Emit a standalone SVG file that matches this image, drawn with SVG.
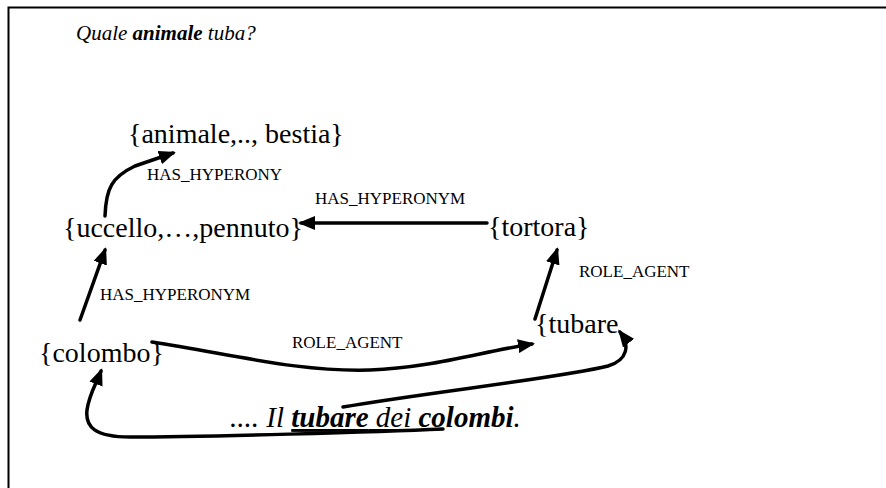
<svg xmlns="http://www.w3.org/2000/svg" width="886" height="488" viewBox="0 0 886 488">
  <style>
    .node { font-size: 28px; }
    .lbl { font-size: 17px; }
    .sent { font-size: 21px; font-style: italic; }
    .edge { fill: none; stroke: #000; stroke-width: 3.5; stroke-linecap: round; stroke-linejoin: round; marker-end: url(#ah); }
  </style>
  <defs>
    <marker id="ah" markerUnits="userSpaceOnUse" markerWidth="18" markerHeight="14" refX="14" refY="7" orient="auto">
      <path d="M0,0 L17,7 L0,14 z" fill="#000"/>
    </marker>
  </defs>

  <rect width="886" height="488" fill="#fff"/>
  <!-- frame: left and top edges -->
  <path d="M8.5,488 L8.5,7.5 L886,7.5" fill="none" stroke="#000" stroke-width="2"/>

  <g font-family="'Liberation Serif', 'DejaVu Serif', serif" fill="#000">
    <text class="sent" x="76" y="40">Quale <tspan font-weight="bold">animale</tspan> tuba?</text>

    <g id="n-animale"><text class="node" x="128" y="143">{animale,.., bestia}</text></g>
    <g id="n-uccello"><text class="node" x="63" y="237">{uccello,…,pennuto}</text></g>
    <g id="n-tortora"><text class="node" x="488" y="236">{tortora}</text></g>
    <g id="n-tubare"><text class="node" x="535" y="333">{tubare</text></g>
    <g id="n-colombo"><text class="node" x="39" y="362">{colombo}</text></g>

    <g id="n-frase">
      <text x="230" y="427" font-size="29" font-style="italic">.... Il <tspan font-weight="bold" text-decoration="underline">tubare</tspan><tspan text-decoration="underline"> dei</tspan> <tspan font-weight="bold">colombi</tspan>.</text>
    </g>

    <g id="connectors">
      <path class="edge" d="M80,320 L105,250"/>
      <path class="edge" d="M105,216 C106,188 112,177 135,166 L173,153"/>
      <path class="edge" d="M487,223 L301,223"/>
      <path class="edge" d="M535,319 L557,250"/>
      <path class="edge" d="M152,342 C240,356 300,372 370,370 C430,368 480,352 532,344"/>
      <path class="edge" d="M343,407 C430,392 560,378 608,366 C628,360 630,345 620,332"/>
      <path class="edge" d="M443,429 C380,432 200,437 130,437 C95,437 85,427 87,410 C89,395 96,384 101,371"/>

      <text class="lbl" x="147" y="180">HAS_HYPERONY</text>
      <text class="lbl" x="315" y="204">HAS_HYPERONYM</text>
      <text class="lbl" x="100" y="300">HAS_HYPERONYM</text>
      <text class="lbl" x="579" y="277">ROLE_AGENT</text>
      <text class="lbl" x="292" y="348">ROLE_AGENT</text>
    </g>
  </g>
</svg>
